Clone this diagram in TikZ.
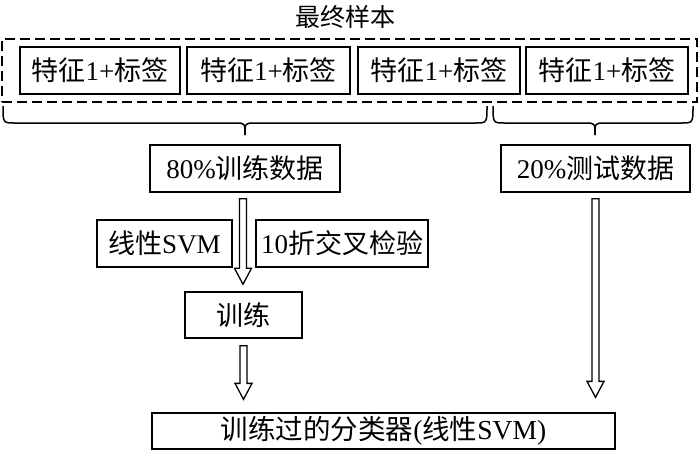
\documentclass[tikz,border=0pt]{standalone}
\usepackage{fontspec}
\setmainfont{Liberation Serif}
\newfontfamily\cjk{Noto Sans CJK SC}
\newcommand\zh[1]{{\cjk #1}}
\usetikzlibrary{calc}
\newcommand\blockarr[2]{%
  \draw[blockarrow] let \p1=#1, \p2=#2 in
    ({\x1-3.5pt},{\y1}) -- ({\x1-3.5pt},{\y2+16pt}) -- ({\x1-8.5pt},{\y2+16pt})
    -- ({\x1},{\y2}) -- ({\x1+8.5pt},{\y2+16pt}) -- ({\x1+3.5pt},{\y2+16pt})
    -- ({\x1+3.5pt},{\y1}) -- cycle;}
\begin{document}
\begin{tikzpicture}[x=1pt,y=-1pt,
  box/.style={draw, line width=1.5pt, inner sep=0pt, minimum height=47pt,
    font=\fontsize{27}{29}\selectfont},
  dashbox/.style={draw, line width=1.8pt, dash pattern=on 10pt off 5pt, inner sep=0pt},
  blockarrow/.style={draw, line width=1.3pt, fill=white, line join=miter},
  bracestyle/.style={line width=1.5pt},
  titletext/.style={font=\fontsize{25}{27}\selectfont, inner sep=0pt}]
\useasboundingbox (0,0) rectangle (700,451);

\node[titletext] (title) at (345,17) {\zh{最终样本}};
\node[dashbox, minimum width=695pt, minimum height=63pt] (all) at (349.5,70.5) {};

\node[box, minimum width=160pt] (s1) at (100,70.5) {\zh{特征}1+\zh{标签}};
\node[box, minimum width=163pt] (s2) at (268.5,70.5) {\zh{特征}1+\zh{标签}};
\node[box, minimum width=162pt] (s3) at (439,70.5) {\zh{特征}1+\zh{标签}};
\node[box, minimum width=162pt] (s4) at (607,70.5) {\zh{特征}1+\zh{标签}};

% braces
\draw[bracestyle] (3,106) .. controls (3,123) .. (15,123) -- (235,123)
  .. controls (245,123) .. (245,135);
\draw[bracestyle] (245,135) .. controls (245,123) .. (255,123) -- (475,123)
  .. controls (487,123) .. (487,106);
\draw[bracestyle] (493,106) .. controls (493,123) .. (505,123) -- (585,123)
  .. controls (595,123) .. (595,135);
\draw[bracestyle] (595,135) .. controls (595,123) .. (605,123) -- (681,123)
  .. controls (693,123) .. (693,106);

\node[box, minimum width=190pt] (td) at (245,168.5) {80\%\zh{训练数据}};
\node[box, minimum width=189pt] (te) at (595.5,168.5) {20\%\zh{测试数据}};
\node[box, minimum width=135pt] (svm) at (164.5,243.5) {\zh{线性}SVM};
\node[box, minimum width=172pt] (cv) at (342,243.5) {10\zh{折交叉检验}};
\node[box, minimum width=117pt, minimum height=46pt] (tr) at (243.5,315) {\zh{训练}};
\node[box, line width=1.3pt, minimum width=463pt, minimum height=36pt,
  font=\fontsize{27.5}{29}\selectfont] (fin) at (383.5,431)
  {\zh{训练过的分类器}(\zh{线性}SVM)};

\blockarr{($(td.south)+(-2,6)$)}{($(tr.north)+(0,-7)$)}
\blockarr{($(tr.south)+(0,7)$)}{($(fin.north)+(0,-13)$)}
\blockarr{($(te.south)+(0,6)$)}{($(fin.north)+(0,-15)$)}
\end{tikzpicture}
\end{document}
